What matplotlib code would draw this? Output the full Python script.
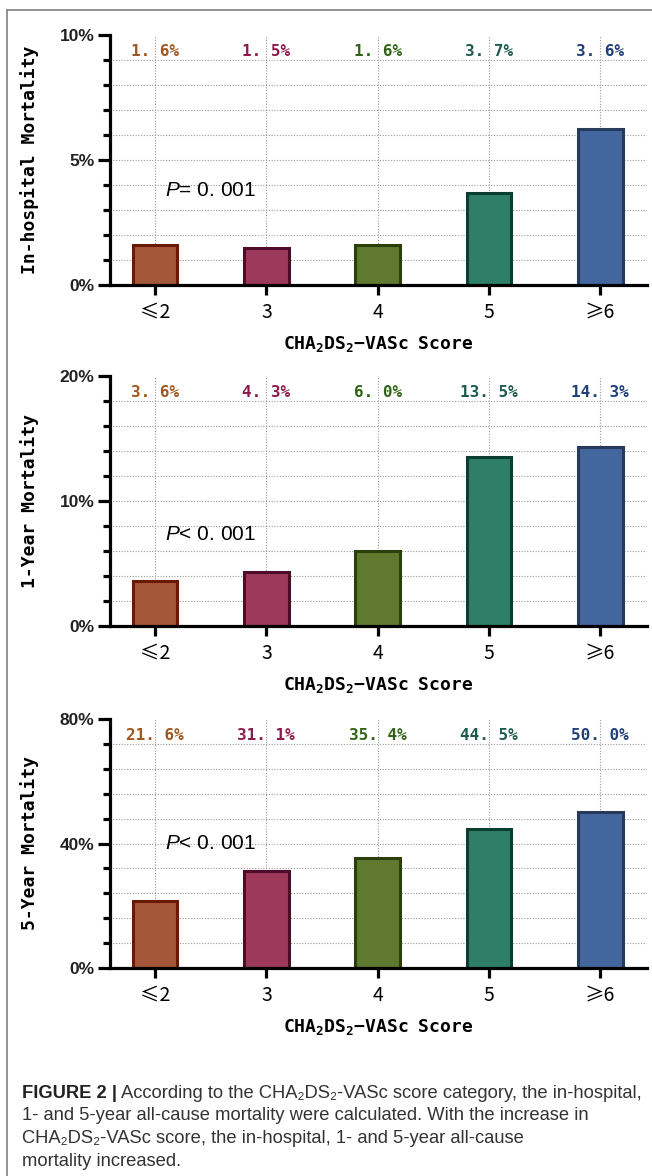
import matplotlib
matplotlib.use("Agg")
import matplotlib.pyplot as plt
from matplotlib.lines import Line2D
from matplotlib.ticker import MultipleLocator, FuncFormatter

plt.rcParams['mathtext.fontset'] = 'custom'
plt.rcParams['mathtext.rm'] = 'DejaVu Sans Mono:bold'
plt.rcParams['mathtext.it'] = 'Liberation Sans:italic'

# data
categories = ["≤2", "3", "4", "5", "≥6"]
inhosp_vals = [1.6, 1.5, 1.6, 3.7, 6.25]
inhosp_labels = ["1. 6%", "1. 5%", "1. 6%", "3. 7%", "3. 6%"]
oneyear_vals = [3.6, 4.3, 6.0, 13.5, 14.3]
oneyear_labels = ["3. 6%", "4. 3%", "6. 0%", "13. 5%", "14. 3%"]
fiveyear_vals = [21.6, 31.1, 35.4, 44.5, 50.0]
fiveyear_labels = ["21. 6%", "31. 1%", "35. 4%", "44. 5%", "50. 0%"]

panel_ylabels = ["In-hospital Mortality", "1-Year Mortality", "5-Year Mortality"]
panel_ymax = [10, 20, 80]
panel_major = [5, 10, 40]
panel_minor = [1, 2, 8]
p_texts = [r"$P$= 0. 001", r"$P$< 0. 001", r"$P$< 0. 001"]
p_ypos = [3.8, 7.3, 40.0]

fill_colors = ["#A5573A", "#9D3A5C", "#5F7A2F", "#2E7E68", "#44669E"]
edge_colors = ["#6A1A00", "#4F0C28", "#2C3E0B", "#0C3E2F", "#263A5C"]
text_colors = ["#A0561C", "#8C1A4C", "#2F6417", "#1F5A4E", "#1F3F78"]

fig = plt.figure(figsize=(6.52, 11.76), dpi=100)

# panel positions in figure fractions
W, H = 652, 1176
panel_px = [(35, 285), (376, 626), (719, 968)]
x_left, x_right = 110, 647

all_vals = [inhosp_vals, oneyear_vals, fiveyear_vals]
all_labels = [inhosp_labels, oneyear_labels, fiveyear_labels]

xs = list(range(len(categories)))

for i, (top, bot) in enumerate(panel_px):
    ax = fig.add_axes([x_left / W, 1 - bot / H, (x_right - x_left) / W, (bot - top) / H])
    ymax = panel_ymax[i]
    ax.set_xlim(-0.405, 4.42)
    ax.set_ylim(0, ymax)

    # dotted grid
    for k in range(1, int(ymax / panel_minor[i])):
        ax.axhline(k * panel_minor[i], color="#9a9a9a", lw=0.8, ls=(0, (1, 1.5)), zorder=0)
    for x in xs:
        ax.axvline(x, color="#9a9a9a", lw=0.8, ls=(0, (1, 1.5)), zorder=0)

    ax.bar(xs, all_vals[i], width=0.4, color=fill_colors, edgecolor=edge_colors,
           linewidth=2.2, zorder=2)

    for x, lab, c in zip(xs, all_labels[i], text_colors):
        ax.text(x, ymax * 0.905, lab, ha="center", va="bottom", color=c,
                fontsize=11.5, fontweight="bold", family="DejaVu Sans Mono", zorder=3)

    ax.text(0.09, p_ypos[i], p_texts[i], ha="left", va="center", fontsize=15,
            family="Liberation Sans", zorder=3)

    for s in ["top", "right"]:
        ax.spines[s].set_visible(False)
    for s in ["left", "bottom"]:
        ax.spines[s].set_linewidth(2.3)

    ax.yaxis.set_major_locator(MultipleLocator(panel_major[i]))
    ax.yaxis.set_minor_locator(MultipleLocator(panel_minor[i]))
    ax.yaxis.set_major_formatter(FuncFormatter(lambda v, p: f"{v:.0f}%"))
    ax.tick_params(axis="y", which="major", length=9, width=2.3, labelsize=12.5, pad=2)
    ax.tick_params(axis="y", which="minor", length=5, width=2.3)
    ax.set_xticks(xs)
    ax.set_xticklabels(categories, family=["Noto Sans CJK SC", "DejaVu Sans"], fontsize=14)
    ax.tick_params(axis="x", length=7, width=2.3, pad=5)
    for t in ax.get_yticklabels():
        t.set_family("Liberation Sans")
        t.set_fontweight("bold")
        t.set_color("#222222")

    ax.set_ylabel(panel_ylabels[i], family="DejaVu Sans Mono", fontweight="bold",
                  fontsize=13)
    ax.yaxis.set_label_coords(-0.132, 0.5)
    ax.set_xlabel(r"$\mathrm{CHA_2DS_2{-}VASc\ \ Score}$", fontsize=13, labelpad=8)

# frame lines around the figure
fig.add_artist(Line2D([7 / W, 7 / W], [0, 1 - 10 / H], color="#8a8a8a", lw=1.3))
fig.add_artist(Line2D([7 / W, 1], [1 - 10 / H, 1 - 10 / H], color="#8a8a8a", lw=1.3))

# caption
cap_font = ["Liberation Sans", "DejaVu Sans"]
cap_size = 13.2
renderer = fig.canvas.get_renderer()
t0 = fig.text(22 / W, 1 - 1093 / H, "FIGURE 2 |", fontsize=cap_size, fontweight="bold",
              family=cap_font, va="center", color="#222222")
bb = t0.get_window_extent(renderer)
fig.text((bb.x1 + 4) / W, 1 - 1093 / H,
         "According to the CHA\u2082DS\u2082-VASc score category, the in-hospital,",
         fontsize=cap_size, family=cap_font, va="center", color="#333333")
cap_lines = [
    "1- and 5-year all-cause mortality were calculated. With the increase in",
    "CHA\u2082DS\u2082-VASc score, the in-hospital, 1- and 5-year all-cause",
    "mortality increased.",
]
for j, line in enumerate(cap_lines):
    fig.text(22 / W, 1 - (1116 + 22.5 * j) / H, line, fontsize=cap_size, family=cap_font,
             va="center", color="#333333")

fig.savefig("out.png", dpi=100)
